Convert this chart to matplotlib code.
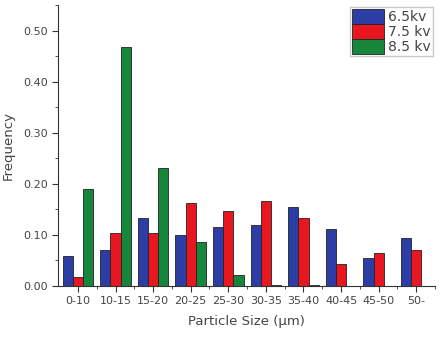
import matplotlib.pyplot as plt
import numpy as np
from matplotlib.ticker import MultipleLocator

# ---------------------------------------------------------------- data
sizes = ['0-10', '10-15', '15-20', '20-25', '25-30', '30-35', '35-40',
         '40-45', '45-50', '50-']
kv65 = [0.058, 0.071, 0.134, 0.099, 0.115, 0.119, 0.154, 0.112, 0.055, 0.093]
kv75 = [0.018, 0.103, 0.103, 0.162, 0.146, 0.166, 0.133, 0.043, 0.064, 0.071]
kv85 = [0.190, 0.467, 0.230, 0.086, 0.021, 0.002, 0.002, 0.0, 0.0, 0.0]
labels = ['6.5kv', '7.5 kv', '8.5 kv']

# ---------------------------------------------------------------- figure
fig = plt.figure(figsize=(4.41, 3.38), dpi=100)
ax = fig.add_axes([0.1315, 0.154, 0.855, 0.831])

x = np.arange(len(sizes))
w = 0.27
clrs = ['#2c3da6', '#e8161e', '#16873a']
for i, (vals, clr, lab) in enumerate(zip([kv65, kv75, kv85], clrs, labels)):
    ax.bar(x + (i - 1) * w, vals, w, color=clr, edgecolor='#222222',
           linewidth=0.6, label=lab)

txt = '#444444'
ax.set_xlim(-0.53, 9.48)
ax.set_ylim(0, 0.55)
ax.set_xticks(x)
ax.set_xticklabels(sizes)
ax.set_xticks(x + 0.5, minor=True)
ax.yaxis.set_major_locator(MultipleLocator(0.1))
ax.yaxis.set_minor_locator(MultipleLocator(0.05))
ax.yaxis.set_major_formatter(plt.FormatStrFormatter('%.2f'))
ax.tick_params(axis='both', which='major', labelsize=8, length=4,
               labelcolor=txt, color='#333333')
ax.tick_params(axis='both', which='minor', length=2, color='#333333')

for s in ['top', 'right']:
    ax.spines[s].set_visible(False)
for s in ['left', 'bottom']:
    ax.spines[s].set_color('#333333')

ax.set_xlabel('Particle Size (\u03bcm)', fontsize=9.5, color=txt, labelpad=6)
ax.set_ylabel('Frequency', fontsize=9.5, color=txt, labelpad=6)

leg = ax.legend(loc='upper right', bbox_to_anchor=(1.0, 1.0), fontsize=10,
                frameon=True, fancybox=False, edgecolor='#bbbbbb',
                handlelength=2.3, handleheight=1.25, handletextpad=0.3,
                labelspacing=0.0, borderpad=0.15, borderaxespad=0.15)
for t in leg.get_texts():
    t.set_color(txt)

fig.savefig('out.png', dpi=100)
